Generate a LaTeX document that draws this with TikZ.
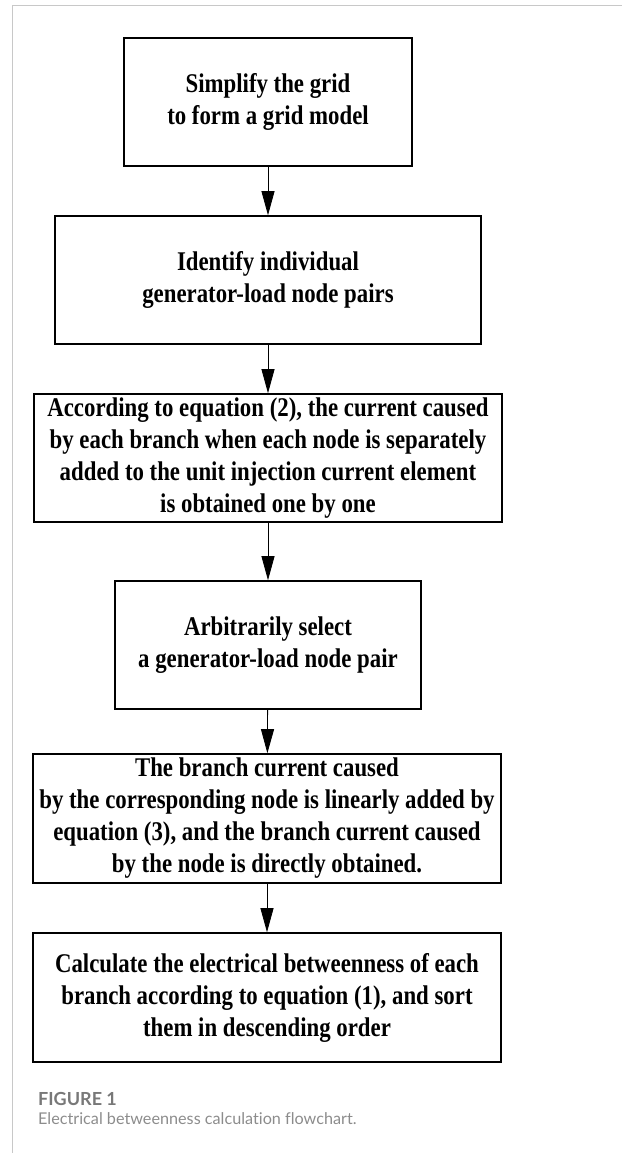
\documentclass[tikz,border=0pt]{standalone}
\usepackage{fontspec}
\setmainfont{Liberation Serif}
\newfontfamily\boxfont{Liberation Serif}[FakeStretch=0.845]
\newfontfamily\capfont{Lato}[Ligatures=NoCommon]
\usetikzlibrary{arrows.meta}
\definecolor{framegray}{RGB}{200,200,200}
\definecolor{figgray}{RGB}{120,120,120}
\definecolor{capgray}{RGB}{140,140,140}
\tikzset{
  flowbox/.style={draw=black, line width=1.6pt, align=center, inner sep=0pt,
    font=\boxfont\fontsize{27}{32}\selectfont\bfseries},
  flowarrow/.style={line width=0.8pt, -{Triangle[width=13pt,length=24pt]}},
}
\begin{document}
\begin{tikzpicture}[x=1pt,y=-1pt]
\useasboundingbox (0,0) rectangle (622,1153);
\draw[framegray, line width=1pt] (12,1153) -- (12,6) -- (622,6);
\node[flowbox, minimum width=288pt, minimum height=128pt] (b1) at (268,102) {Simplify the grid\\to form a grid model};
\node[flowbox, minimum width=426pt, minimum height=128pt] (b2) at (268,280) {Identify individual\\generator-load node pairs};
\node[flowbox, minimum width=468pt, minimum height=128pt] (b3) at (268,458) {According to equation (2), the current caused\\by each branch when each node is separately\\added to the unit injection current element\\is obtained one by one};
\node[flowbox, minimum width=306pt, minimum height=128pt] (b4) at (268,645) {Arbitrarily select\\a generator-load node pair};
\node[flowbox, minimum width=468pt, minimum height=129pt] (b5) at (267,818.5) {The branch current caused\\by the corresponding node is linearly added by\\equation (3), and the branch current caused\\by the node is directly obtained.};
\node[flowbox, minimum width=468pt, minimum height=129pt] (b6) at (267,997.5) {Calculate the electrical betweenness of each\\branch according to equation (1), and sort\\them in descending order};
\draw[flowarrow] (b1) -- (b2);
\draw[flowarrow] (b2) -- (b3);
\draw[flowarrow] (b3) -- (b4);
\draw[flowarrow] (b4) -- (b5);
\draw[flowarrow] (b5.south -| b6.north) -- (b6);
\node[anchor=base west, inner sep=0pt, text=figgray, font=\capfont\fontsize{18}{20}\selectfont\bfseries] (fig) at (38,1105) {FIGURE 1};
\node[anchor=base west, inner sep=0pt, text=capgray, font=\capfont\fontsize{16.2}{20}\selectfont] (cap) at (38,1124) {Electrical betweenness calculation flowchart.};
\end{tikzpicture}
\end{document}
